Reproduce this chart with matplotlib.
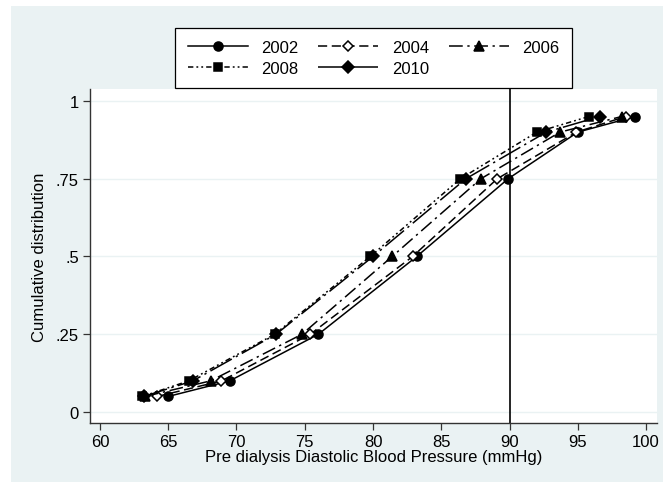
import matplotlib
matplotlib.use("Agg")
import matplotlib.pyplot as plt
from matplotlib.patches import Rectangle

plt.rcParams['font.family'] = ['Liberation Sans', 'DejaVu Sans']

pct = [0.05, 0.10, 0.25, 0.50, 0.75, 0.90, 0.95]
bp_2002 = [65.0, 69.5, 76.0, 83.2, 89.9, 95.0, 99.2]
bp_2004 = [64.2, 68.9, 75.4, 82.9, 89.1, 94.9, 98.5]
bp_2006 = [63.3, 68.1, 74.8, 81.4, 87.9, 93.7, 98.2]
bp_2008 = [63.1, 66.5, 72.8, 79.8, 86.4, 92.0, 95.8]
bp_2010 = [63.2, 66.8, 72.9, 80.0, 86.8, 92.7, 96.6]
years = ["2002", "2004", "2006", "2008", "2010"]
xticks = [60, 65, 70, 75, 80, 85, 90, 95, 100]
yticks = [0, 0.25, 0.5, 0.75, 1]
ytick_labels = ["0", ".25", ".5", ".75", "1"]
ref_line = 90

W, H = 663, 485
fig = plt.figure(figsize=(W / 100, H / 100), dpi=100, facecolor='white')
fig.patches.append(Rectangle((11 / W, 2 / H), (W - 11) / W, (H - 9) / H,
                             transform=fig.transFigure, facecolor='#eaf2f3',
                             edgecolor='none', zorder=-10))

ax = fig.add_axes([90 / W, (H - 424) / H, (657 - 90) / W, (424 - 90) / H])
ax.set_zorder(1)
ax.set_facecolor('white')

series = [bp_2002, bp_2004, bp_2006, bp_2008, bp_2010]
styles = [
    dict(ls='-', marker='o', mfc='black'),
    dict(ls=(0, (6, 3)), marker='D', mfc='white'),
    dict(ls=(0, (9, 3, 1.5, 3)), marker='^', mfc='black'),
    dict(ls=(0, (3.5, 2, 1.2, 2, 1.2, 2)), marker='s', mfc='black'),
    dict(ls=(0, (16, 3, 1.5, 3)), marker='D', mfc='black'),
]
msizes = [6.5, 5.5, 6.5, 6, 6]
handles = []
for yr, xs, st, ms in zip(years, series, styles, msizes):
    h, = ax.plot(xs, pct, color='black', lw=1.1, linestyle=st['ls'],
                 marker=st['marker'], markerfacecolor=st['mfc'],
                 markeredgecolor='black', markeredgewidth=1.1,
                 markersize=ms, label=yr, zorder=3)
    handles.append(h)

ax.axvline(ref_line, color='black', lw=1.2, zorder=2)

ax.set_xlim(59.27, 100.8)
ax.set_ylim(-0.0354, 1.0386)
ax.set_xticks(xticks)
ax.set_xticklabels([str(t) for t in xticks])
ax.set_yticks(yticks)
ax.set_yticklabels(ytick_labels)
ax.yaxis.grid(True, color='#eaf2f3', lw=1.0, zorder=0)
ax.set_axisbelow(True)
for s in ['top', 'right']:
    ax.spines[s].set_visible(False)
for s in ['left', 'bottom']:
    ax.spines[s].set_color('#333333')
    ax.spines[s].set_linewidth(1.0)
ax.tick_params(axis='both', direction='out', length=5, width=0.9,
               color='#333333', labelsize=12, labelcolor='black', pad=3)
ax.set_xlabel("Pre dialysis Diastolic Blood Pressure (mmHg)", fontsize=12,
              labelpad=0)
ax.set_ylabel("Cumulative distribution", fontsize=12, labelpad=6)

order = [0, 3, 1, 4, 2]
leg = fig.legend([handles[i] for i in order], [years[i] for i in order],
                 ncol=3, loc='center',
                 bbox_to_anchor=((175 + 572) / 2 / W, 1 - 59 / H),
                 bbox_transform=fig.transFigure, frameon=True,
                 fancybox=False, edgecolor='black', framealpha=1,
                 fontsize=12, handlelength=3.6, handletextpad=0.8,
                 columnspacing=1.2, labelspacing=0.35, borderpad=0.75,
                 numpoints=1)
leg.get_frame().set_linewidth(0.9)
leg.set_zorder(5)

fig.savefig("out.png", dpi=100, facecolor='white')
